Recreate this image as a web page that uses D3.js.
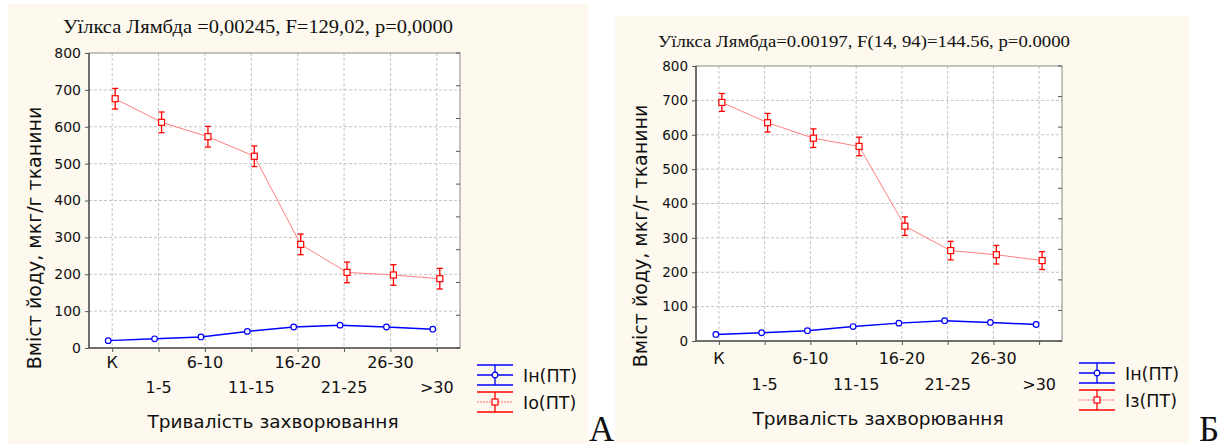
<!DOCTYPE html>
<html lang="uk">
  <head>
    <meta charset="UTF-8" />
    <title>Вміст йоду</title>
    <script src="https://d3js.org/d3.v7.min.js"></script>
    <style>
      body { margin: 0; background: #fff; }
      svg { display: block; }
      .sans { font-family: "DejaVu Sans", Arial, sans-serif; fill: #111; }
      .serif { font-family: "Liberation Serif", "Times New Roman", serif; fill: #111; }
      .grid line { stroke: #c4c4c4; stroke-dasharray: 3 2; }
    </style>
  </head>
  <body>
    <svg id="chart" width="1229" height="448"></svg>
    <script>
      // дані
      const categories = ["К", "1-5", "6-10", "11-15", "16-20", "21-25", "26-30", ">30"];
      const yTicks = [0, 100, 200, 300, 400, 500, 600, 700, 800];

      const inA = [20, 25, 30, 45, 57, 62, 57, 51];
      const ioA = [676, 612, 573, 520, 281, 205, 198, 188];
      const ioErrA = [28, 28, 28, 28, 28, 28, 28, 28];

      const inB = [19, 24, 30, 42, 52, 59, 54, 48];
      const izB = [694, 635, 590, 566, 334, 263, 251, 234];
      const izErrB = [26, 27, 27, 27, 27, 27, 27, 26];

      const svg = d3.select("#chart");

      function drawPanel(p) {
        const g = svg.append("g");

        g.append("rect")
          .attr("x", p.bg[0]).attr("y", p.bg[1])
          .attr("width", p.bg[2]).attr("height", p.bg[3])
          .attr("fill", "#fdf9ee");

        const x = d3.scalePoint().domain(categories).range([p.left, p.right]).padding(0.5);
        const y = d3.scaleLinear().domain([0, 800]).range([p.bottom, p.top]);

        g.append("rect")
          .attr("x", p.left).attr("y", p.top)
          .attr("width", p.right - p.left).attr("height", p.bottom - p.top)
          .attr("fill", "#fff");

        // сітка
        const grid = g.append("g").attr("class", "grid");
        grid.selectAll(".gx").data(categories).join("line")
          .attr("x1", d => x(d)).attr("x2", d => x(d))
          .attr("y1", p.top).attr("y2", p.bottom);
        grid.selectAll(".gy").data(yTicks.slice(1, -1)).join("line")
          .attr("x1", p.left).attr("x2", p.right)
          .attr("y1", d => y(d)).attr("y2", d => y(d));

        // рамка
        g.append("rect")
          .attr("x", p.left).attr("y", p.top)
          .attr("width", p.right - p.left).attr("height", p.bottom - p.top)
          .attr("fill", "none").attr("stroke", "#888").attr("stroke-width", 1);
        g.append("line")
          .attr("x1", p.left).attr("x2", p.right).attr("y1", p.bottom).attr("y2", p.bottom)
          .attr("stroke", "#555").attr("stroke-width", 1.5);
        g.append("line")
          .attr("x1", p.left).attr("x2", p.left).attr("y1", p.top).attr("y2", p.bottom)
          .attr("stroke", "#555").attr("stroke-width", 1.5);

        // праві засічки
        g.selectAll(".rt").data(d3.range(10)).join("line")
          .attr("x1", p.right - 4).attr("x2", p.right)
          .attr("y1", i => p.top + i * (p.bottom - p.top) / 9)
          .attr("y2", i => p.top + i * (p.bottom - p.top) / 9)
          .attr("stroke", "#555");

        // вісь Y
        const yAxis = d3.axisLeft(y).tickValues(yTicks).tickSize(4).tickPadding(4);
        const ya = g.append("g").attr("transform", `translate(${p.left},0)`).call(yAxis);
        ya.select(".domain").remove();
        ya.selectAll("line").attr("stroke", "#555");
        ya.selectAll("text")
          .style("font-size", p.tickFont + "px")
          .style("font-family", "DejaVu Sans, Arial, sans-serif").attr("fill", "#111");

        // вісь X (дворядкові підписи)
        const xAxis = d3.axisBottom(x).tickSize(4).tickFormat("");
        const xa = g.append("g").attr("transform", `translate(0,${p.bottom})`).call(xAxis);
        xa.select(".domain").remove();
        xa.selectAll("line").attr("stroke", "#555");
        g.selectAll(".xl").data(categories).join("text")
          .attr("class", "sans")
          .attr("x", d => x(d))
          .attr("y", (d, i) => (i % 2 === 0 ? p.xRow1 : p.xRow2))
          .attr("text-anchor", "middle")
          .style("font-size", p.xFont + "px")
          .text(d => d);

        // синя лінія Ін
        const bx = d => x(d) + p.blueOff;
        const rx = d => x(d) + p.redOff;
        const blue = categories.map((c, i) => [bx(c), y(p.inV[i])]);
        g.append("path")
          .attr("d", d3.line()(blue))
          .attr("fill", "none").attr("stroke", "#0000ff").attr("stroke-width", 1.5);
        g.selectAll(".bc").data(blue).join("circle")
          .attr("cx", d => d[0]).attr("cy", d => d[1]).attr("r", 2.8)
          .attr("fill", "#fff").attr("stroke", "#0000ff").attr("stroke-width", 1.2);

        // червона лінія з похибками
        const red = categories.map((c, i) => [rx(c), y(p.redV[i])]);
        g.append("path")
          .attr("d", d3.line()(red))
          .attr("fill", "none").attr("stroke", "#ff8080").attr("stroke-width", 1);
        const eb = g.selectAll(".eb").data(categories).join("g")
          .attr("stroke", "#ff0000").attr("stroke-width", 1.3);
        eb.append("line")
          .attr("x1", d => rx(d)).attr("x2", d => rx(d))
          .attr("y1", (d, i) => y(p.redV[i] + p.redErr[i]))
          .attr("y2", (d, i) => y(p.redV[i] - p.redErr[i]));
        eb.append("line")
          .attr("x1", d => rx(d) - 3).attr("x2", d => rx(d) + 3)
          .attr("y1", (d, i) => y(p.redV[i] + p.redErr[i]))
          .attr("y2", (d, i) => y(p.redV[i] + p.redErr[i]));
        eb.append("line")
          .attr("x1", d => rx(d) - 3).attr("x2", d => rx(d) + 3)
          .attr("y1", (d, i) => y(p.redV[i] - p.redErr[i]))
          .attr("y2", (d, i) => y(p.redV[i] - p.redErr[i]));
        g.selectAll(".rs").data(red).join("rect")
          .attr("x", d => d[0] - 3).attr("y", d => d[1] - 3)
          .attr("width", 6).attr("height", 6)
          .attr("fill", "#fff").attr("stroke", "#ff0000").attr("stroke-width", 1.2);

        // заголовок
        g.append("text")
          .attr("class", "serif")
          .attr("x", p.titleX).attr("y", p.titleY)
          .attr("text-anchor", "middle")
          .style("font-size", p.titleFont + "px")
          .attr("textLength", p.titleLen)
          .attr("lengthAdjust", "spacingAndGlyphs")
          .text(p.title);

        // підписи осей
        g.append("text")
          .attr("class", "sans")
          .attr("transform", `translate(${p.yLabelX},${p.yLabelY}) rotate(-90)`)
          .attr("text-anchor", "middle")
          .style("font-size", "19px")
          .text("Вміст йоду, мкг/г тканини");
        g.append("text")
          .attr("class", "sans")
          .attr("x", p.xLabelX).attr("y", p.xLabelY)
          .attr("text-anchor", "middle")
          .style("font-size", "18.5px")
          .text("Тривалість захворювання");

        // легенда
        const lg = g.append("g").attr("transform", `translate(${p.legX},${p.legY})`);
        const items = [
          { name: "Ін(ПТ)", c: "#0000ff", mid: "#0000ff", dy: 0, circle: true },
          { name: p.redName, c: "#ff0000", mid: "#ff9999", dy: 27, circle: false }
        ];
        items.forEach(it => {
          const e = lg.append("g").attr("transform", `translate(0,${it.dy})`);
          [0, 10, 20].forEach(yy => {
            e.append("line")
              .attr("x1", 0).attr("x2", 36).attr("y1", yy).attr("y2", yy)
              .attr("stroke", yy === 10 ? it.mid : it.c)
              .attr("stroke-width", 1.3)
              .attr("stroke-dasharray", yy === 10 && !it.circle ? "2 1" : null);
          });
          e.append("line").attr("x1", 18).attr("x2", 18).attr("y1", 0).attr("y2", 20)
            .attr("stroke", it.c).attr("stroke-width", 1.3);
          if (it.circle) {
            e.append("circle").attr("cx", 18).attr("cy", 10).attr("r", 2.8)
              .attr("fill", "#fff").attr("stroke", it.c).attr("stroke-width", 1.2);
          } else {
            e.append("rect").attr("x", 15).attr("y", 7).attr("width", 6).attr("height", 6)
              .attr("fill", "#fff").attr("stroke", it.c).attr("stroke-width", 1.2);
          }
          e.append("text").attr("class", "sans")
            .attr("x", 46).attr("y", 17)
            .style("font-size", "17.5px")
            .text(it.name);
        });
      }

      const panelA = {
        bg: [8, 4, 580, 440],
        left: 89, right: 460, top: 53, bottom: 348,
        blueOff: -4, redOff: 3,
        inV: inA, redV: ioA, redErr: ioErrA, redName: "Іо(ПТ)",
        tickFont: 14, xFont: 16, xRow1: 368, xRow2: 393,
        title: "Уїлкса Лямбда =0,00245,  F=129,02,  p=0,0000",
        titleX: 258, titleY: 33, titleFont: 18, titleLen: 390,
        yLabelX: 41, yLabelY: 238,
        xLabelX: 273, xLabelY: 428,
        legX: 477, legY: 365,
        letter: "А", letterX: 589, letterY: 441
      };
      const panelB = {
        bg: [615, 16, 574, 427],
        left: 696, right: 1062, top: 66, bottom: 341,
        blueOff: -3, redOff: 3,
        inV: inB, redV: izB, redErr: izErrB, redName: "Із(ПТ)",
        tickFont: 13.5, xFont: 16, xRow1: 364, xRow2: 390,
        title: "Уїлкса Лямбда=0.00197, F(14, 94)=144.56, p=0.0000",
        titleX: 864, titleY: 47, titleFont: 17, titleLen: 412,
        yLabelX: 647, yLabelY: 236,
        xLabelX: 878, xLabelY: 425,
        legX: 1079, legY: 363,
        letter: "Б", letterX: 1199, letterY: 441
      };
      drawPanel(panelA);
      drawPanel(panelB);

      // літери панелей поверх усього
      svg.selectAll(".letter").data([panelA, panelB]).join("text")
        .attr("class", "serif")
        .attr("x", d => d.letterX).attr("y", d => d.letterY)
        .style("font-size", "35px")
        .text(d => d.letter);
    </script>
  </body>
</html>
